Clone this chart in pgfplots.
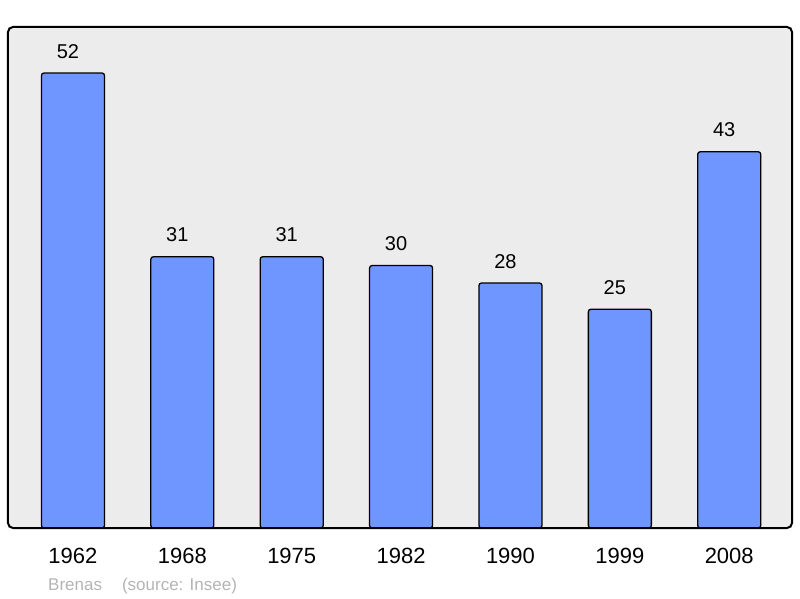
\documentclass[border=0pt]{standalone}
\usepackage{fontspec}
\setmainfont{Liberation Sans}
\usepackage{pgfplots}
\pgfplotsset{compat=1.18}
\definecolor{barblue}{HTML}{6F96FF}
\definecolor{bgray}{HTML}{ECECEC}
\definecolor{srcgray}{HTML}{B4B4B4}

\begin{document}
\begin{tikzpicture}
% page frame, 1pt = 1px of the reference
\path (0,0) rectangle (800pt,598pt);
\begin{axis}[
  at={(8pt,70pt)}, anchor=south west,
  scale only axis, width=784pt, height=501pt,
  ybar, bar width=63pt,
  xmin=-0.594, xmax=6.574,
  ymin=0, ymax=57.26,
  clip=false,
  xtick=data,
  xticklabels={1962,1968,1975,1982,1990,1999,2008},
  ytick=\empty,
  major tick length=0pt,
  axis line style={draw=none},
  axis background/.style={fill=bgray},
  /pgf/number format/assume math mode=true,
  xticklabel style={font=\fontsize{22}{24}\selectfont, anchor=north, inner sep=0pt, yshift=-20pt},
  nodes near coords,
  nodes near coords style={font=\fontsize{20}{22}\selectfont, anchor=base, xshift=-5pt, yshift=15pt, inner sep=0pt, text=black},
  after end axis/.code={\draw[line width=2pt, rounded corners=5pt] (rel axis cs:0,0) rectangle (rel axis cs:1,1);},
]
\addplot[fill=barblue, draw=black, line width=1.3pt, rounded corners=2.5pt] coordinates {
  (0,52) (1,31) (2,31) (3,30) (4,28) (5,25) (6,43)
};
\end{axis}
\node[anchor=base west, text=srcgray, font=\fontsize{17}{19}\selectfont, inner sep=0pt] at (48pt,8pt) {Brenas\hspace{20pt}(source: Insee)};
\end{tikzpicture}
\end{document}
